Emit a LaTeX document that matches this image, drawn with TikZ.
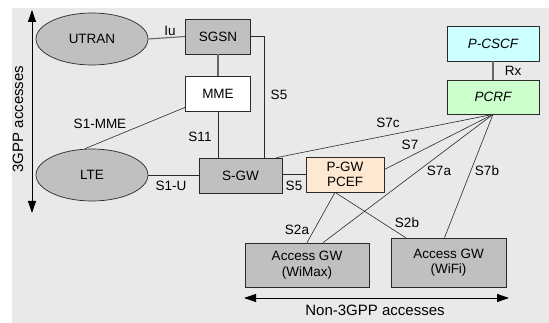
\documentclass[tikz,border=0pt]{standalone}
\usepackage{fontspec}
\setmainfont{Liberation Sans}
\usetikzlibrary{shapes.geometric,arrows.meta,positioning}
\definecolor{panel}{HTML}{E9E9E9}
\definecolor{boxgray}{HTML}{C0C0C0}
\definecolor{cscfcyan}{HTML}{CCFFFF}
\definecolor{pcrfgreen}{HTML}{CCFFCC}
\definecolor{pgwpeach}{HTML}{FFE8D2}
\definecolor{wire}{HTML}{2A2A2A}
\definecolor{wiregray}{HTML}{666666}

\begin{document}
\begin{tikzpicture}[x=1pt, y=-1pt,
    every node/.style={font=\fontsize{13.5}{15.5}\selectfont, inner sep=0pt},
    netbox/.style={draw=wire, line width=0.7pt, fill=boxgray, align=center},
    radio/.style={ellipse, draw=wire, line width=0.7pt, fill=boxgray, minimum width=112pt, minimum height=52pt},
    link/.style={draw=wire, line width=0.6pt},
    graylink/.style={draw=wiregray, line width=1.1pt},
    span/.style={draw=black, line width=0.8pt, {Triangle[length=12pt,width=8pt]}-{Triangle[length=12pt,width=8pt]}},
    big/.style={font=\fontsize{15}{17}\selectfont}]
\useasboundingbox (0,0) rectangle (549,323);
\fill[panel] (12,8) rectangle (549,323);

% radio access
\node[radio] (utran) at (92,39) {UTRAN};
\node[radio] (lte) at (92,175) {LTE};

% core nodes
\node[netbox, minimum width=65pt, minimum height=35pt] (sgsn) at (218,36.5) {SGSN};
\node[netbox, fill=white, minimum width=65pt, minimum height=35pt] (mme) at (218,93.5) {MME};
\node[netbox, minimum width=83pt, minimum height=35pt] (sgw) at (240.5,175.5) {S-GW};
\node[netbox, fill=pgwpeach, minimum width=78pt, minimum height=35pt] (pgw) at (345,174.5) {P-GW\\PCEF};
\node[netbox, fill=cscfcyan, minimum width=92pt, minimum height=35pt] (pcscf) at (493,43.5) {\itshape P-CSCF};
\node[netbox, fill=pcrfgreen, minimum width=92pt, minimum height=34pt] (pcrf) at (493,97) {\itshape PCRF};
\node[netbox, minimum width=124pt, minimum height=44pt] (wimax) at (307,265) {Access GW\\(WiMax)};
\node[netbox, minimum width=115pt, minimum height=49pt] (wifi) at (448.5,262.5) {Access GW\\(WiFi)};

% interfaces
\draw[graylink] (utran.east) -- (sgsn.west);
\draw[graylink] (sgsn.south) -- (mme.north);
\draw[graylink] (pcscf.south) -- (pcrf.north);
\draw[link] (mme.south) -- (mme.south |- sgw.north);
\draw[link] (sgsn.east) -| ([xshift=-18pt]sgw.north east);
\draw[link] ([yshift=4pt]mme.south west) -- ([xshift=-7pt]lte.north);
\draw[link] (lte.east) -- (lte.east -| sgw.west);
\draw[link] (sgw.east |- pgw.east) -- (pgw.west);
\draw[link] (pcrf.south) -- ([xshift=-6pt]sgw.north east);
\draw[link] (pcrf.south) -- ([yshift=5pt]pgw.east);
\draw[link] (pcrf.south) -- ([xshift=16pt]wimax.north);
\draw[link] (pcrf.south) -- ([xshift=-4pt]wifi.north);
\draw[link] ([xshift=-10pt]pgw.south) -- (wimax.north);
\draw[link] ([xshift=-10pt]pgw.south) -- ([xshift=15pt]wifi.north west);

% interface labels
\node (iu) at (170,31) {Iu};
\node (s5a) at (279,95) {S5};
\node (s1mme) at (100,124) {S1-MME};
\node (s11) at (200,137) {S11};
\node (s1u) at (171,186) {S1-U};
\node (s5b) at (294,186) {S5};
\node (s7c) at (388,123) {S7c};
\node (s7) at (410,145) {S7};
\node (s7a) at (439,171) {S7a};
\node (s7b) at (487,171) {S7b};
\node (s2a) at (297,230) {S2a};
\node (s2b) at (407,223) {S2b};
\node (rx) at (513,71) {Rx};

% access ranges
\coordinate (gtop) at (32,10);
\coordinate (gbot) at (32,213);
\coordinate (nleft) at (244,298);
\coordinate (nright) at (509,298);
\draw[span] (gbot) -- (gtop);
\draw[span] (nleft) -- (nright);
\node[big, rotate=90] (gpp) at (18,119) {3GPP accesses};
\node[big] (nongpp) at (375,310) {Non-3GPP accesses};
\end{tikzpicture}
\end{document}
